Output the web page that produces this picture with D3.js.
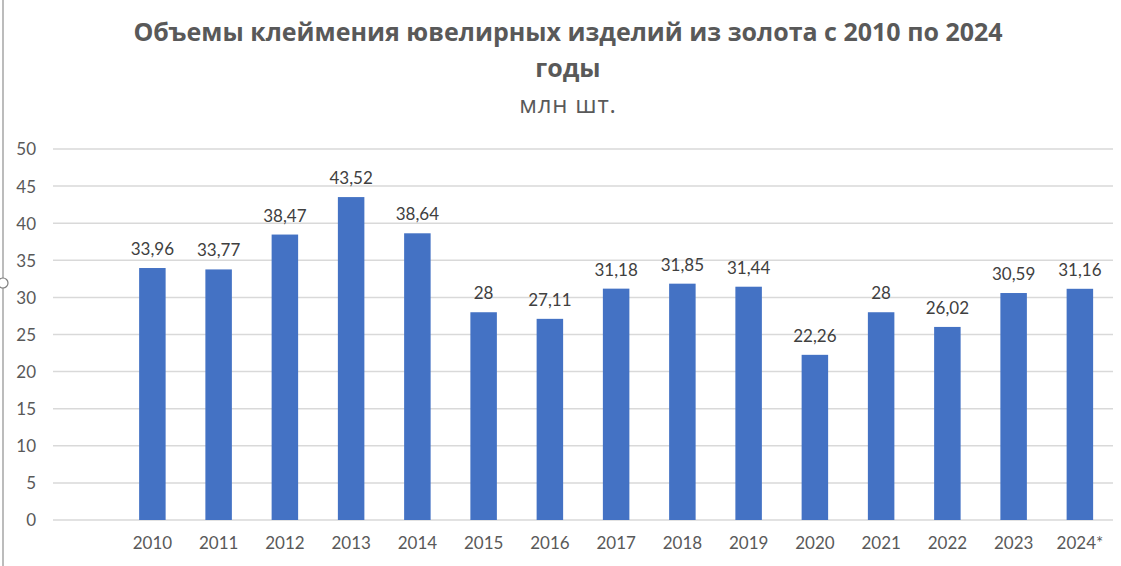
<!DOCTYPE html>
<html>
<head>
    <meta charset="utf-8">
    <script src="https://d3js.org/d3.v7.min.js"></script>
    <style>
        body { margin: 0; background: #fff; }
        .tick-label { font-size: 17px; fill: #595959; font-family: 'Lato', sans-serif; }
        .val-label { font-size: 17px; fill: #404040; font-family: 'Lato', sans-serif; }
    </style>
</head>
<body>
    <svg width="1121" height="566"></svg>
    <script>
        // Data (the first slot is an empty category, as in the original)
        const years = ["", "2010", "2011", "2012", "2013", "2014", "2015", "2016", "2017", "2018", "2019", "2020", "2021", "2022", "2023", "2024*"];
        const values = [null, 33.96, 33.77, 38.47, 43.52, 38.64, 28, 27.11, 31.18, 31.85, 31.44, 22.26, 28, 26.02, 30.59, 31.16];
        const yTicks = [0, 5, 10, 15, 20, 25, 30, 35, 40, 45, 50];
        const titleLines = ["Объемы клеймения ювелирных изделий из золота с 2010 по 2024", "годы"];
        const subtitle = "млн шт.";

        const data = years.map((y, i) => ({ year: y, value: values[i] }));

        let margin = {top: 149, right: 8, bottom: 46, left: 53},
            width = 1113 - margin.left,
            height = 520 - margin.top;

        let svg = d3.select("svg");

        // frame edge of the chart object
        svg.append("line")
           .attr("x1", 3).attr("x2", 3).attr("y1", 0).attr("y2", 566)
           .attr("stroke", "#a6a6a6").attr("stroke-width", 1.5);
        svg.append("circle")
           .attr("cx", 3).attr("cy", 283).attr("r", 5)
           .attr("fill", "#fff").attr("stroke", "#7f7f7f").attr("stroke-width", 1.2);

        // titles
        svg.selectAll(".title")
           .data(titleLines)
           .enter().append("text")
           .attr("x", 568)
           .attr("y", (d, i) => 41 + i * 36)
           .attr("text-anchor", "middle")
           .attr("font-family", "'Open Sans', sans-serif")
           .attr("font-weight", "bold")
           .attr("font-size", 25)
           .attr("fill", "#595959")
           .text(d => d);

        svg.append("text")
           .attr("x", 568)
           .attr("y", 113)
           .attr("text-anchor", "middle")
           .attr("font-family", "'Open Sans', sans-serif")
           .attr("font-size", 24)
           .attr("letter-spacing", 0.8)
           .attr("fill", "#595959")
           .text(subtitle);

        let g = svg.append("g")
                   .attr("transform", `translate(${margin.left},${margin.top})`);

        let x = d3.scaleBand()
                  .domain(years)
                  .range([0, width])
                  .paddingInner(0.6)
                  .paddingOuter(0.3);

        let y = d3.scaleLinear()
                  .domain([0, 50])
                  .range([height, 0]);

        // gridlines
        g.selectAll(".grid")
         .data(yTicks)
         .enter().append("line")
         .attr("x1", 0).attr("x2", width)
         .attr("y1", d => y(d)).attr("y2", d => y(d))
         .attr("stroke", "#d9d9d9").attr("stroke-width", 1.5);

        // y axis labels
        let yAxis = g.append("g")
                     .call(d3.axisLeft(y).tickValues(yTicks).tickSize(0).tickPadding(17));
        yAxis.select(".domain").remove();
        yAxis.selectAll("text").attr("class", "tick-label").attr("dy", "0.35em");

        // x axis labels
        let xAxis = g.append("g")
                     .attr("transform", `translate(0,${height})`)
                     .call(d3.axisBottom(x).tickSize(0).tickPadding(17));
        xAxis.select(".domain").remove();
        xAxis.selectAll("text").attr("class", "tick-label");

        const bars = data.filter(d => d.value !== null);

        g.selectAll(".bar")
         .data(bars)
         .enter().append("rect")
         .attr("x", d => x(d.year))
         .attr("y", d => y(d.value))
         .attr("width", x.bandwidth())
         .attr("height", d => y(0) - y(d.value))
         .attr("fill", "#4472c4");

        g.selectAll(".val")
         .data(bars)
         .enter().append("text")
         .attr("class", "val-label")
         .attr("x", d => x(d.year) + x.bandwidth() / 2)
         .attr("y", d => y(d.value) - 13)
         .attr("text-anchor", "middle")
         .text(d => String(d.value).replace(".", ","));
    </script>
</body>
</html>
